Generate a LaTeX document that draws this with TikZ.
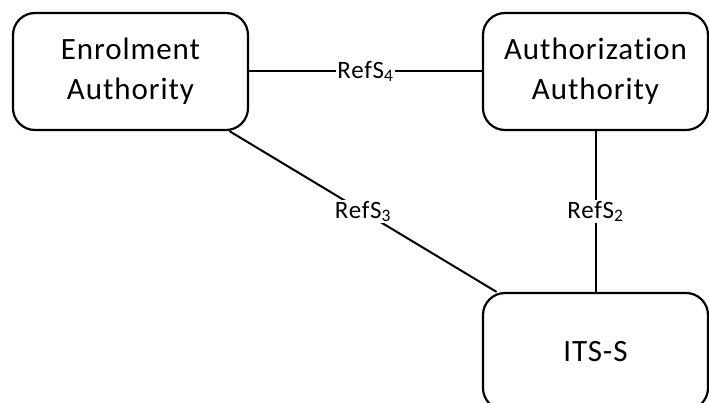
\documentclass[tikz,border=0pt]{standalone}
\usepackage{fontspec}
\setmainfont{Carlito}[LetterSpace=3, Ligatures=NoCommon]
\begin{document}
\begin{tikzpicture}[x=1pt,y=-1pt,
    authbox/.style={draw, line width=2.2pt, rounded corners=22pt,
      minimum width=235pt, minimum height=117pt, align=center,
      font=\fontsize{31}{40}\selectfont},
    link/.style={line width=2pt},
    reflabel/.style={fill=white, inner sep=1.5pt,
      font=\fontsize{25}{28}\selectfont}]
    \useasboundingbox (0,0) rectangle (709,403);
    \clip (0,0) rectangle (709,403);

    \node[authbox] (ea) at (130.5,71.5) {Enrolment\\Authority};
    \node[authbox, minimum width=225pt] (aa) at (595.5,71.5) {Authorization\\Authority};
    \node[authbox, minimum width=225pt] (its) at (595.5,351.5) {ITS-S};

    \draw[link] (ea) -- node[reflabel] {RefS\textsubscript{4}} (aa);
    \draw[link] (ea) -- node[reflabel] {RefS\textsubscript{3}} (its);
    \draw[link] (aa) -- node[reflabel] {RefS\textsubscript{2}} (its);
\end{tikzpicture}
\end{document}
